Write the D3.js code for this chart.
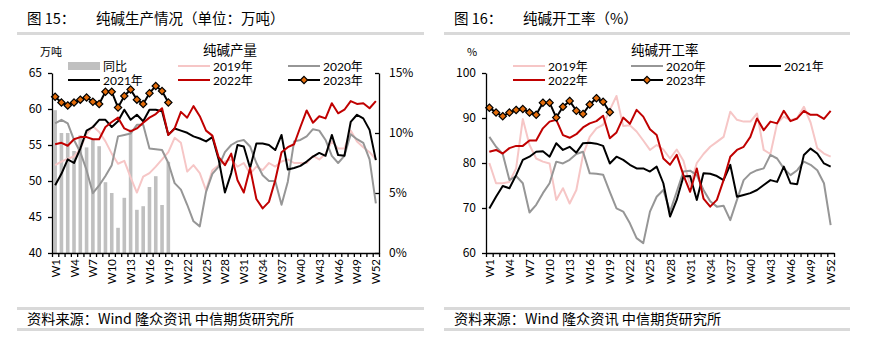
<!DOCTYPE html>
<html>
<head>
<meta charset="utf-8">
<script src="https://cdn.jsdelivr.net/npm/d3@7/dist/d3.min.js"></script>
<style>
  body { margin: 0; background: #fff; }
  svg { display: block; }
  text { font-family: "Noto Sans CJK SC", sans-serif; fill: #000; }
  .num { font-family: Lato, "Noto Sans CJK SC", sans-serif; }
</style>
</head>
<body>
<svg id="chart" width="873" height="353"></svg>
<script>
// week categories
const weeks = d3.range(1, 53).map(i => 'W' + i);

// --- figure 15: soda ash output (10k t), yoy % on right axis
const prod2019 = [52.2,52.7,53.1,53.4,54.5,56.5,57.6,56.8,55.5,53.8,52.4,52.8,50.5,48.4,50.6,51.1,52.0,53.0,54.0,56.0,55.3,51.3,52.2,51.1,48.7,51.5,52.2,52.7,53.0,52.0,52.5,51.0,52.0,51.5,52.5,52.0,52.7,53.0,52.5,52.5,52.5,53.5,53.0,53.8,55.5,54.5,54.5,57.0,55.5,54.7,54.0,53.0];
const prod2020 = [58.0,58.5,58.0,55.7,54.0,51.5,48.3,49.4,50.7,52.2,56.2,56.4,56.6,57.8,57.8,54.5,54.4,54.3,52.5,49.7,48.8,46.7,44.4,43.7,48.5,51.0,52.0,54.0,55.0,55.5,55.7,54.8,52.5,50.8,50.0,50.0,46.7,49.9,55.5,55.7,56.2,57.2,57.0,55.7,53.5,52.5,53.5,56.5,55.8,55.3,53.0,46.9];
const prod2021 = [49.4,51.0,53.0,52.5,54.5,57.0,57.5,58.5,58.5,57.5,58.3,59.9,58.5,59.2,58.3,59.9,59.9,59.7,56.4,57.3,57.0,56.7,56.2,55.9,55.5,56.1,53.0,48.4,51.1,55.0,54.8,51.8,55.2,55.2,55.0,54.3,56.4,51.6,51.8,52.1,52.7,53.4,53.9,53.5,56.4,53.6,53.5,58.2,59.2,58.7,57.1,52.9];
const prod2022 = [55.1,55.3,54.9,55.8,56.1,56.1,55.8,55.8,57.5,58.2,58.8,57.3,56.9,57.3,58.1,58.8,59.3,60.1,56.4,57.3,59.6,58.8,60.4,59.0,57.0,56.3,53.3,52.2,53.8,50.1,48.4,51.8,47.5,46.2,47.1,50.1,54.0,54.7,55.1,57.5,59.8,58.1,59.0,58.7,60.8,59.4,59.9,61.1,60.7,60.8,60.1,61.1];
const prod2023 = [61.7,60.9,60.5,60.9,61.3,61.6,61.0,60.7,62.4,62.4,60.2,61.8,62.7,61.3,60.7,62.2,63.2,62.5,60.9];
const prodYoy = [11.9,10.0,10.0,8.5,9.8,8.8,9.5,8.9,5.9,5.0,2.1,4.6,10.3,3.6,3.9,5.5,6.4,4.0,7.6];
const prodTicks = [40, 45, 50, 55, 60, 65];
const yoyTicks = [0, 5, 10, 15];

// --- figure 16: soda ash operating rate (%)
const rate2019 = [80.0,75.5,75.5,75.8,78.8,89.8,84.0,81.0,80.3,79.9,71.8,74.4,71.0,74.0,81.8,85.8,87.7,88.5,91.8,94.9,88.2,88.4,87.0,85.0,82.9,84.0,83.0,81.0,83.0,80.5,75.0,80.0,82.0,83.6,84.7,85.8,91.4,89.6,89.2,89.2,91.0,82.9,82.0,88.8,90.3,89.5,90.0,92.5,89.0,83.3,82.1,81.4];
const rate2020 = [85.8,83.6,82.0,76.2,77.1,75.5,69.0,70.7,73.3,75.5,80.3,79.9,80.7,82.0,82.5,77.7,77.6,77.4,73.6,69.9,69.2,66.6,63.3,62.2,69.2,72.5,74.0,69.2,73.6,78.1,78.3,77.3,74.0,71.5,70.3,70.5,67.3,71.8,76.2,77.7,78.4,78.8,81.8,81.0,78.8,77.3,78.4,80.3,79.6,78.4,75.5,66.2];
const rate2021 = [69.9,72.5,74.9,74.4,77.3,80.7,81.4,82.5,82.6,81.4,84.4,82.9,83.6,82.3,84.4,84.5,84.3,83.8,79.9,81.4,80.7,79.6,78.8,78.8,78.1,79.2,75.5,68.1,71.8,77.0,77.1,71.8,77.7,77.6,77.1,76.2,79.6,72.5,72.9,73.3,74.0,75.1,76.2,75.8,79.2,75.5,75.3,81.8,83.2,82.1,79.9,79.2];
const rate2022 = [82.5,82.9,82.1,83.3,83.8,83.8,85.0,85.0,87.7,89.2,89.6,86.2,85.6,86.4,87.9,88.8,89.3,90.5,85.5,86.8,90.1,88.7,91.8,90.3,87.5,86.2,81.0,79.6,81.8,77.3,73.6,78.8,72.1,70.3,71.8,76.2,81.4,82.9,83.6,85.8,89.9,87.3,89.2,88.8,91.6,89.3,89.9,91.6,90.7,90.7,89.8,91.6];
const rate2023 = [92.3,91.2,90.4,91.2,91.8,92.0,91.2,90.7,93.4,93.4,90.1,92.5,93.8,91.6,90.9,93.0,94.4,93.6,91.3];
const rateTicks = [60, 70, 80, 90, 100];

// series styling
const style = {
  '2019年': {color: '#f6c6c6', width: 2},
  '2020年': {color: '#969696', width: 2},
  '2021年': {color: '#000000', width: 2},
  '2022年': {color: '#c00000', width: 2},
  '2023年': {color: '#000000', width: 2, marker: '#e46c0a'},
  '同比':   {color: '#c0c0c0'}
};

const svg = d3.select('#chart');

function drawPanel(cfg) {
  const g = svg.append('g');

  // header and footer rules
  g.append('text').attr('x', cfg.left + 10).attr('y', 24).attr('font-size', 14.5).text(cfg.figNo);
  g.append('text').attr('x', cfg.titleX).attr('y', 24).attr('font-size', 14.5).text(cfg.figTitle);
  g.append('rect').attr('x', cfg.left).attr('y', 32).attr('width', cfg.right - cfg.left).attr('height', 3).attr('fill', '#d9d9d9');
  g.append('rect').attr('x', cfg.left).attr('y', 307).attr('width', cfg.right - cfg.left).attr('height', 3).attr('fill', '#d9d9d9');
  g.append('rect').attr('x', cfg.left).attr('y', 328).attr('width', cfg.right - cfg.left).attr('height', 3).attr('fill', '#d9d9d9');
  g.append('text').attr('x', cfg.left + 10).attr('y', 324).attr('font-size', 14.2).text('资料来源：Wind 隆众资讯 中信期货研究所');

  // scales
  const x = d3.scaleBand().domain(weeks).range([cfg.x0, cfg.x1]);
  const cx = w => x(w) + x.bandwidth() / 2;
  const y = d3.scaleLinear().domain(cfg.yDomain).range([cfg.y1, cfg.y0]);

  // bars on right axis
  if (cfg.bars) {
    const y2 = d3.scaleLinear().domain(cfg.y2Domain).range([cfg.y1, cfg.y0]);
    g.append('g').selectAll('rect')
      .data(cfg.bars)
      .join('rect')
        .attr('x', (d, i) => cx(weeks[i]) - 1.8)
        .attr('width', 3.6)
        .attr('y', d => y2(d))
        .attr('height', d => y2(0) - y2(d))
        .attr('fill', style['同比'].color);

    const ax2 = g.append('g')
      .attr('class', 'num')
      .attr('transform', `translate(${cfg.x1},0)`)
      .call(d3.axisRight(y2).tickValues(cfg.y2Ticks).tickFormat(d => d + '%').tickSizeInner(-4).tickSizeOuter(0).tickPadding(10));
    ax2.selectAll('text').attr('font-size', 12).attr('fill', '#000');
    ax2.selectAll('path, line').attr('stroke', '#000').attr('stroke-width', 1.3);
  }

  // lines
  const line = d3.line().x((d, i) => cx(weeks[i])).y(d => y(d));
  cfg.series.forEach(s => {
    const st = style[s.name];
    g.append('path')
      .datum(s.values)
      .attr('fill', 'none')
      .attr('stroke', st.color)
      .attr('stroke-width', st.width)
      .attr('stroke-linejoin', 'round')
      .attr('d', line);
    if (st.marker) {
      g.append('g').selectAll('path')
        .data(s.values)
        .join('path')
          .attr('transform', (d, i) => `translate(${cx(weeks[i])},${y(d)})`)
          .attr('d', d3.symbol(d3.symbolDiamond2, 34))
          .attr('fill', st.marker)
          .attr('stroke', '#000')
          .attr('stroke-width', 1.2);
    }
  });

  // left y axis
  const ax = g.append('g')
    .attr('class', 'num')
    .attr('transform', `translate(${cfg.x0},0)`)
    .call(d3.axisLeft(y).tickValues(cfg.yTicks).tickSizeInner(4).tickSizeOuter(0).tickPadding(6));
  ax.selectAll('text').attr('font-size', 12).attr('fill', '#000');
  ax.selectAll('path, line').attr('stroke', '#000').attr('stroke-width', 1.3);

  // x axis: ticks between categories, labels every third week
  const xt = d3.scaleLinear().domain([0, weeks.length]).range([cfg.x0, cfg.x1]);
  const axb = g.append('g')
    .attr('transform', `translate(0,${cfg.y1})`)
    .call(d3.axisBottom(xt).tickValues(d3.range(0, weeks.length + 1)).tickFormat('').tickSizeInner(4).tickSizeOuter(0));
  axb.selectAll('path, line').attr('stroke', '#000').attr('stroke-width', 1.3);
  g.append('g').selectAll('text')
    .data(weeks.filter((w, i) => i % 3 === 0))
    .join('text')
      .attr('class', 'num')
      .attr('font-size', 11.5)
      .attr('text-anchor', 'end')
      .attr('dominant-baseline', 'central')
      .attr('transform', w => `translate(${cx(w)},${cfg.y1 + 6}) rotate(-90)`)
      .text(w => w);

  // unit and chart title
  g.append('text').attr('x', cfg.unitX).attr('y', 56).attr('font-size', 11).text(cfg.unit);
  g.append('text').attr('x', cfg.chartTitleX).attr('y', 54.5).attr('font-size', 13.5).text(cfg.chartTitle);

  // legend
  cfg.legend.forEach(l => {
    const st = style[l.name];
    if (l.name === '同比') {
      g.append('rect').attr('x', l.x).attr('y', l.y - 4).attr('width', 32).attr('height', 8).attr('fill', st.color);
    } else {
      g.append('line').attr('x1', l.x).attr('x2', l.x + 32).attr('y1', l.y).attr('y2', l.y)
        .attr('stroke', st.color).attr('stroke-width', st.width);
      if (st.marker) {
        g.append('path').attr('transform', `translate(${l.x + 16},${l.y})`)
          .attr('d', d3.symbol(d3.symbolDiamond2, 34))
          .attr('fill', st.marker).attr('stroke', '#000').attr('stroke-width', 1.2);
      }
    }
    g.append('text').attr('class', 'num').attr('x', l.x + 35).attr('y', l.y + 0.5)
      .attr('dominant-baseline', 'central').attr('font-size', 12).text(l.name);
  });
}

drawPanel({
  left: 17, right: 424, titleX: 96,
  figNo: '图 15：', figTitle: '纯碱生产情况（单位：万吨）',
  x0: 52, x1: 379, y0: 73, y1: 253,
  yDomain: [40, 65], yTicks: prodTicks,
  y2Domain: [0, 15], y2Ticks: yoyTicks, bars: prodYoy,
  unit: '万吨', unitX: 40, chartTitle: '纯碱产量', chartTitleX: 203,
  series: [
    {name: '2019年', values: prod2019},
    {name: '2020年', values: prod2020},
    {name: '2021年', values: prod2021},
    {name: '2022年', values: prod2022},
    {name: '2023年', values: prod2023}
  ],
  legend: [
    {name: '同比', x: 68, y: 66},
    {name: '2019年', x: 178, y: 66},
    {name: '2020年', x: 288, y: 66},
    {name: '2021年', x: 68, y: 80},
    {name: '2022年', x: 178, y: 80},
    {name: '2023年', x: 288, y: 80}
  ]
});

drawPanel({
  left: 444, right: 850, titleX: 523,
  figNo: '图 16：', figTitle: '纯碱开工率（%）',
  x0: 486, x1: 834, y0: 73, y1: 253,
  yDomain: [60, 100], yTicks: rateTicks,
  unit: '%', unitX: 467, chartTitle: '纯碱开工率', chartTitleX: 631,
  series: [
    {name: '2019年', values: rate2019},
    {name: '2020年', values: rate2020},
    {name: '2021年', values: rate2021},
    {name: '2022年', values: rate2022},
    {name: '2023年', values: rate2023}
  ],
  legend: [
    {name: '2019年', x: 513, y: 66},
    {name: '2020年', x: 631, y: 66},
    {name: '2021年', x: 749, y: 66},
    {name: '2022年', x: 513, y: 80},
    {name: '2023年', x: 631, y: 80}
  ]
});
</script>
</body>
</html>
